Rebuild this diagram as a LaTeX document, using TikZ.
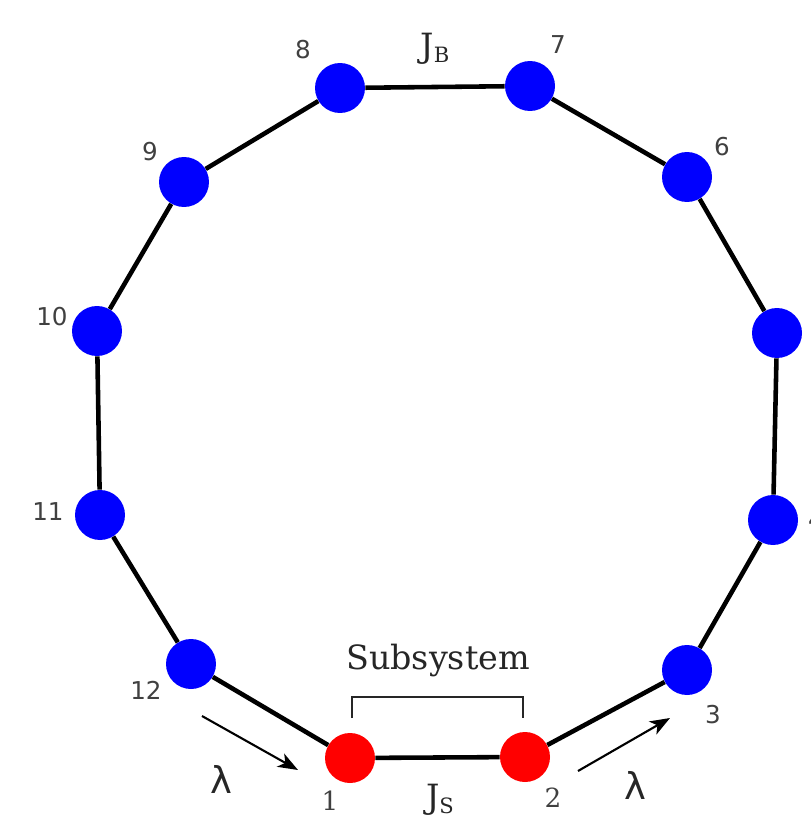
\documentclass[tikz,border=0pt]{standalone}
\usepackage{fontspec}
\setmainfont{DejaVu Serif}
\setsansfont{DejaVu Sans}
\usetikzlibrary{arrows.meta}
\tikzset{
	sitetext/.style={font=\sffamily\fontsize{14}{16}\selectfont, text=black!75}
}
\tikzset{
	bigtext/.style={font=\fontsize{19}{22}\selectfont, text=black!85}
}

\begin{document}
\begin{tikzpicture}[x=0.02cm, y=-0.02cm, >={Stealth[length=4mm, width=3mm, inset=1.1mm]},
    site/.style={circle, fill=blue, minimum size=1cm, inner sep=0pt},
    subsite/.style={site, fill=red},
    bond/.style={line width=2.6pt}]
  \clip (0,0) rectangle (811,828);
  \node[subsite] (n1) at (350,758) {};
  \node[subsite] (n2) at (525,757) {};
  \node[site] (n3) at (687,670) {};
  \node[site] (n4) at (773,520) {};
  \node[site] (n5) at (777,333) {};
  \node[site] (n6) at (687,177) {};
  \node[site] (n7) at (530,86) {};
  \node[site] (n8) at (340,88) {};
  \node[site] (n9) at (184,182) {};
  \node[site] (n10) at (97,331) {};
  \node[site] (n11) at (100,515) {};
  \node[site] (n12) at (191,664) {};

  \foreach \a/\b in {1/2,2/3,3/4,4/5,5/6,6/7,7/8,8/9,9/10,10/11,11/12,12/1}
    \draw[bond] (n\a) -- (n\b);

  % site numbers
  \node[sitetext, font=\fontsize{15}{17}\selectfont] (lab1) at (330,801) {1};
  \node[sitetext, font=\fontsize{15}{17}\selectfont] (lab2) at (553,798) {2};
  \node[sitetext] (lab3) at (713,715) {3};
  \node[sitetext] (lab4) at (816,520) {4};
  \node[sitetext] (lab6) at (722,147) {6};
  \node[sitetext] (lab7) at (558,45) {7};
  \node[sitetext] (lab8) at (303,50) {8};
  \node[sitetext] (lab9) at (150,152) {9};
  \node[sitetext] (lab10) at (52,317) {10};
  \node[sitetext] (lab11) at (48,512) {11};
  \node[sitetext] (lab12) at (146,690) {12};

  % couplings
  \node[bigtext] (jb) at (435,49) {J\raisebox{-0.25ex}{\fontsize{12}{14}\selectfont B}};
  \node[bigtext] (js) at (440,800) {J\raisebox{-0.25ex}{\fontsize{12}{14}\selectfont S}};

  % subsystem bracket
  \node[bigtext] (subsys) at (438,661) {Subsystem};
  \coordinate (bl) at (352,718);
  \coordinate (bt) at (438,697);
  \coordinate (br) at (523,718);
  \draw[line width=1.1pt, black!85] (bl) |- (bt) -| (br);

  % incoming and outgoing rate
  \coordinate (ina) at (202,716);
  \coordinate (inb) at (298,770);
  \coordinate (outa) at (578,771);
  \coordinate (outb) at (670,718);
  \draw[line width=1.2pt, ->] (ina) -- (inb);
  \draw[line width=1.2pt, ->] (outa) -- (outb);
  \node[font=\sffamily\fontsize{21}{24}\selectfont, text=black!85] (lamin) at (221,779) {λ};
  \node[font=\sffamily\fontsize{21}{24}\selectfont, text=black!85] (lamout) at (635,785) {λ};
\end{tikzpicture}
\end{document}
